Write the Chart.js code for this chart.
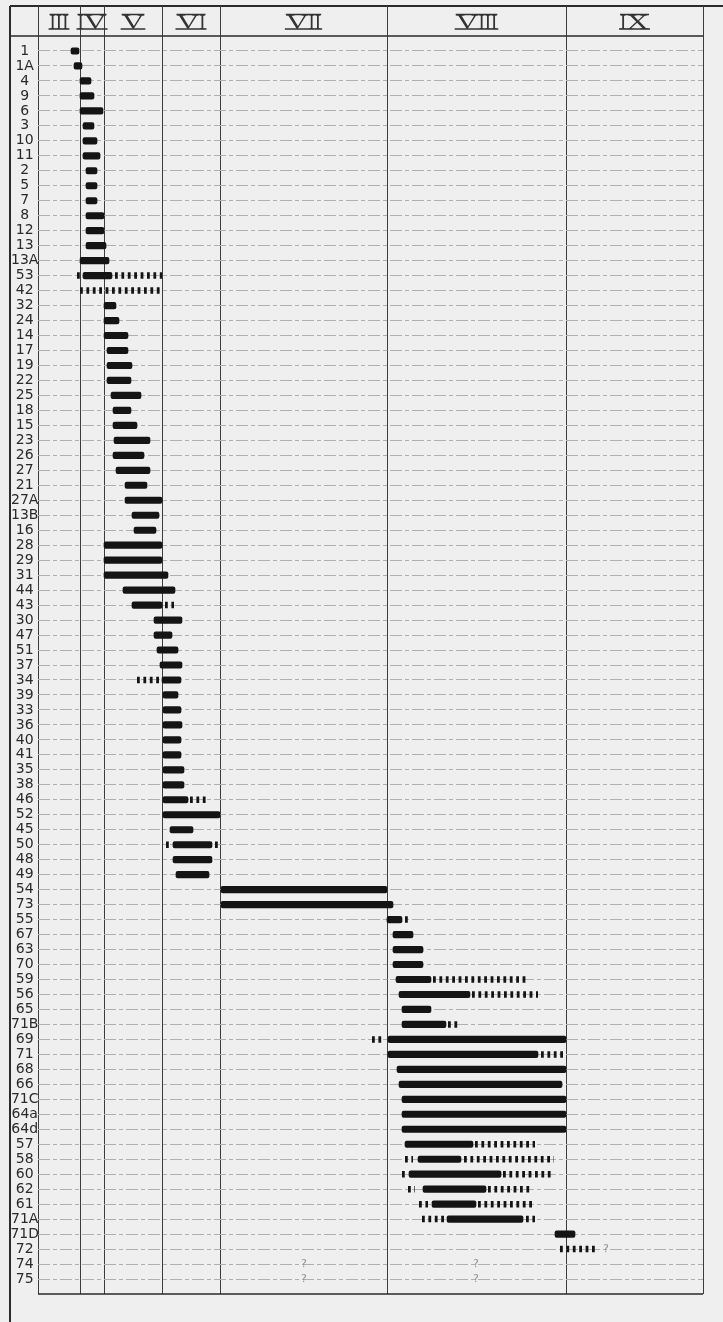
<!DOCTYPE html>
<html>
<head>
<meta charset="utf-8">
<script src="https://cdn.jsdelivr.net/npm/chart.js@4.4.0/dist/chart.umd.min.js"></script>
<style>
  html, body { margin: 0; padding: 0; background: #efefef; }
  #wrap { width: 723px; height: 1322px; }
</style>
</head>
<body>
<div id="wrap"><canvas id="seriation" width="723" height="1322"></canvas></div>
<script>
// periods across the top and the edges of their columns (x units)
const periods = ['III', 'IV', 'V', 'VI', 'VII', 'VIII', 'IX'];
const periodEdges = [0, 42, 66, 124, 182, 349, 528, 665];

// grave numbers, top to bottom
const graves = [
  '1', '1A', '4', '9', '6', '3', '10', '11', '2', '5', '7', '8', '12', '13', '13A',
  '53', '42', '32', '24', '14', '17', '19', '22', '25', '18', '15', '23', '26', '27',
  '21', '27A', '13B', '16', '28', '29', '31', '44', '43', '30', '47', '51', '37', '34',
  '39', '33', '36', '40', '41', '35', '38', '46', '52', '45', '50', '48', '49', '54',
  '73', '55', '67', '63', '70', '59', '56', '65', '71B', '69', '71', '68', '66', '71C',
  '64a', '64d', '57', '58', '60', '62', '61', '71A', '71D', '72', '74', '75'
];

// certain range of each grave [from, to], same order as graves
const solidRanges = [
  [33, 41], [36, 44], [42, 53], [42, 56], [42, 65], [45, 56], [45, 59], [45, 62],
  [48, 59], [48, 59], [48, 59], [48, 66], [48, 66], [48, 68], [42, 71],
  [45, 74], null, [66, 78], [66, 81], [66, 90], [69, 90], [69, 94], [69, 93],
  [73, 103], [75, 93], [75, 99], [76, 112], [75, 106], [78, 112],
  [87, 109], [87, 124], [94, 121], [96, 118], [66, 124], [66, 124], [66, 130],
  [85, 137], [94, 124], [116, 144], [116, 134], [119, 140], [122, 144], [124, 143],
  [125, 140], [125, 143], [125, 144], [125, 143], [125, 143], [125, 146], [125, 146],
  [125, 150], [125, 182], [132, 155], [135, 174], [135, 174], [138, 171], [183, 349],
  [183, 355], [349, 364], [355, 375], [355, 385], [355, 385], [358, 393], [361, 432],
  [364, 393], [364, 408], [350, 528], [350, 500], [359, 528], [361, 524], [364, 528],
  [364, 528], [364, 528], [367, 435], [380, 423], [371, 463], [385, 448], [394, 438],
  [409, 485], [517, 537], null, null, null
];

// uncertain stretches drawn dotted: [grave, from, to]
const dottedRanges = [
  ['53', 39, 42], ['53', 77, 124], ['42', 42, 124], ['43', 127, 136], ['34', 99, 122],
  ['46', 152, 168], ['50', 128, 131], ['50', 177, 180], ['55', 367, 370],
  ['59', 395, 491], ['56', 434, 500], ['71B', 410, 420], ['69', 334, 346],
  ['71', 503, 526], ['57', 437, 497], ['58', 367, 375], ['58', 426, 516],
  ['60', 364, 367], ['60', 465, 513], ['62', 370, 377], ['62', 450, 492],
  ['61', 381, 390], ['61', 440, 497], ['71A', 384, 406], ['71A', 488, 497],
  ['72', 522, 560]
];

// doubtful attributions: [grave, x]
const queries = [['72', 568], ['74', 266], ['74', 438], ['75', 266], ['75', 438]];

const rowOf = g => graves.indexOf(g) + 1;
const lastRow = graves.length + 1;

const solidData = solidRanges
  .map((r, i) => r && { x: r, y: i + 1 })
  .filter(Boolean);

// each dotted stretch is its own piece of line, split by an empty point
const dottedData = dottedRanges.flatMap(([g, a, b]) => [
  { x: a, y: rowOf(g) }, { x: b, y: rowOf(g) }, { x: b, y: null }
]);

const queryData = queries.map(([g, x]) => ({ x: x, y: rowOf(g) }));

function queryMark() {
  const c = document.createElement('canvas');
  c.width = 10; c.height = 14;
  const g = c.getContext('2d');
  g.fillStyle = '#8f8f8f';
  g.font = '11px "DejaVu Sans"';
  g.textAlign = 'center';
  g.textBaseline = 'middle';
  g.fillText('?', 5, 7);
  return c;
}

// paper, outer frame and the period row above the grid
const frame = {
  id: 'frame',
  beforeDraw(chart) {
    const ctx = chart.ctx;
    ctx.save();
    ctx.fillStyle = '#efefef';
    ctx.fillRect(0, 0, chart.width, chart.height);
    ctx.restore();
  },
  afterDraw(chart) {
    const { ctx, chartArea: a, scales: { x } } = chart;
    const top = 6, left = 10;
    ctx.save();
    ctx.strokeStyle = '#2a2a2a';
    ctx.lineWidth = 2;
    ctx.beginPath();
    ctx.moveTo(left, top); ctx.lineTo(chart.width, top);
    ctx.moveTo(left, top); ctx.lineTo(left, chart.height);
    ctx.stroke();

    ctx.lineWidth = 1.5;
    ctx.beginPath();
    ctx.moveTo(left, a.top); ctx.lineTo(a.right, a.top);
    ctx.moveTo(a.left, a.bottom); ctx.lineTo(a.right, a.bottom);
    ctx.stroke();

    ctx.strokeStyle = '#3c3c3c';
    ctx.lineWidth = 1;
    ctx.beginPath();
    periodEdges.forEach(v => {
      const px = Math.round(x.getPixelForValue(v)) + 0.5;
      ctx.moveTo(px, top); ctx.lineTo(px, a.top);
    });
    ctx.stroke();

    // roman numerals with a rule over and under, V and X drawn wide
    ctx.fillStyle = '#333';
    ctx.strokeStyle = '#333';
    ctx.font = '21px "Liberation Serif"';
    ctx.textBaseline = 'alphabetic';
    ctx.textAlign = 'left';
    const base = 29, cap = 14.5;
    periods.forEach((p, i) => {
      const cx = x.getPixelForValue((periodEdges[i] + periodEdges[i + 1]) / 2);
      const chars = p.split('');
      const stretch = ch => (ch === 'I' ? 0.9 : 1.5);
      const widths = chars.map(ch => ctx.measureText(ch).width * stretch(ch));
      const total = widths.reduce((s, w) => s + w, 0);
      let pos = cx - total / 2;
      chars.forEach((ch, k) => {
        ctx.save();
        ctx.translate(pos, base);
        ctx.scale(stretch(ch), 1);
        ctx.fillText(ch, 0, 0);
        ctx.restore();
        pos += widths[k];
      });
      ctx.lineWidth = 1.3;
      ctx.beginPath();
      ctx.moveTo(cx - total / 2, base - cap); ctx.lineTo(cx + total / 2, base - cap);
      ctx.moveTo(cx - total / 2 - 1, base); ctx.lineTo(cx + total / 2 + 1, base);
      ctx.stroke();
    });
    ctx.restore();
  }
};

new Chart(document.getElementById('seriation'), {
  type: 'bar',
  data: {
    datasets: [
      {
        type: 'bar',
        indexAxis: 'y',
        data: solidData,
        backgroundColor: '#141414',
        barThickness: 6.5,
        borderRadius: 2,
        borderSkipped: false
      },
      {
        type: 'scatter',
        showLine: true,
        spanGaps: false,
        data: dottedData,
        borderColor: '#141414',
        borderWidth: 6.5,
        borderDash: [2.8, 3.6],
        borderCapStyle: 'butt',
        pointRadius: 0,
        tension: 0
      },
      {
        type: 'scatter',
        data: queryData,
        pointStyle: queryMark(),
        pointRadius: 6
      }
    ]
  },
  options: {
    responsive: false,
    animation: false,
    events: [],
    layout: { padding: { left: 10, right: 20, top: 36, bottom: 28 } },
    plugins: { legend: { display: false }, tooltip: { enabled: false } },
    scales: {
      x: {
        type: 'linear',
        offset: false,
        min: periodEdges[0],
        max: periodEdges[periodEdges.length - 1],
        afterBuildTicks: s => { s.ticks = periodEdges.map(v => ({ value: v })); },
        afterFit: s => { s.height = 0; },
        ticks: { display: false },
        grid: { offset: false, color: '#3c3c3c', lineWidth: 1, drawTicks: false },
        border: { display: false }
      },
      y: {
        type: 'linear',
        offset: false,
        min: 0,
        max: lastRow,
        reverse: true,
        afterBuildTicks: s => {
          s.ticks = Array.from({ length: lastRow + 1 }, (_, i) => ({ value: i }));
        },
        afterFit: s => { s.width = 28; },
        ticks: {
          autoSkip: false,
          crossAlign: 'center',
          padding: -1,
          color: '#2a2a2a',
          font: { family: '"DejaVu Sans"', size: 14 },
          callback: v => graves[v - 1] || ''
        },
        grid: {
          offset: false,
          color: c => (!c.tick || c.tick.value === 0 || c.tick.value === lastRow) ? 'rgba(0,0,0,0)' : '#b0b0b0',
          lineWidth: 1,
          drawTicks: false
        },
        border: { display: false, dash: [12, 3, 4, 3] }
      }
    }
  },
  plugins: [frame]
});
</script>
</body>
</html>
